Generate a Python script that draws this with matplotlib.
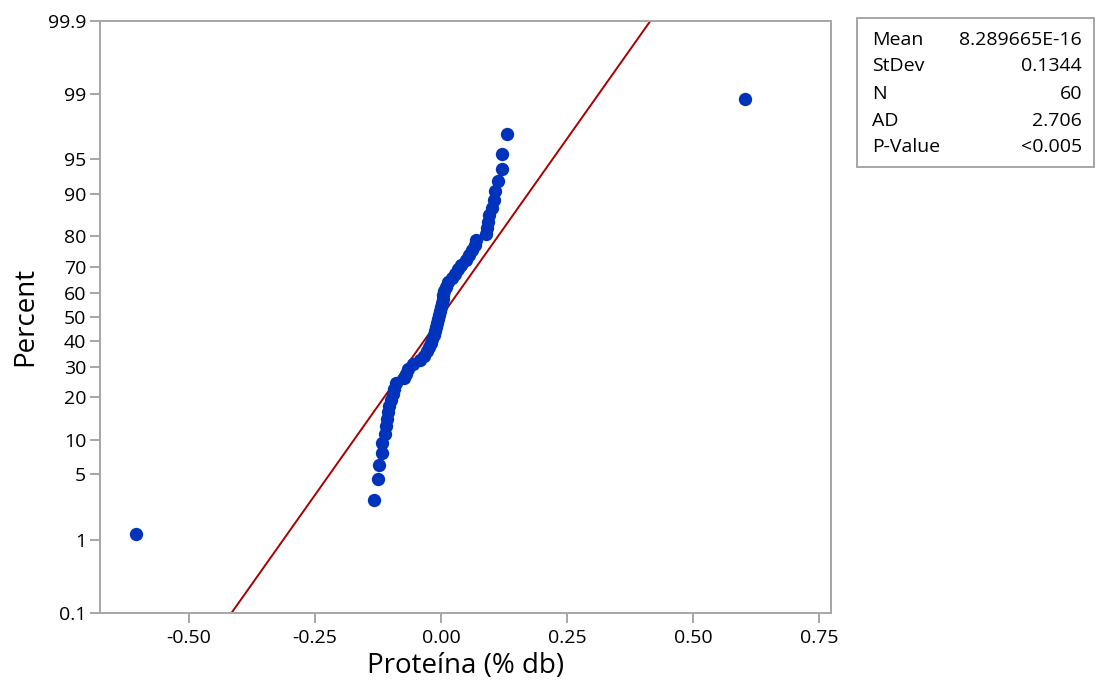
import matplotlib
matplotlib.use('Agg')
import matplotlib.pyplot as plt
from matplotlib.patches import Rectangle
from statistics import NormalDist

# residuos ordenados
residuals = [-0.605, -0.133, -0.125, -0.123, -0.117, -0.117, -0.111, -0.109, -0.107, -0.105,
             -0.103, -0.099, -0.095, -0.093, -0.089, -0.073, -0.069, -0.065, -0.056, -0.042,
             -0.034, -0.028, -0.024, -0.020, -0.018, -0.014, -0.012, -0.010, -0.008, -0.006,
             -0.004, -0.002, 0.000, 0.002, 0.004, 0.004, 0.006, 0.010, 0.014, 0.022,
             0.028, 0.034, 0.040, 0.050, 0.056, 0.062, 0.067, 0.069, 0.089, 0.091,
             0.093, 0.095, 0.101, 0.105, 0.107, 0.113, 0.121, 0.121, 0.131, 0.603]

pct_ticks = [0.1, 1, 5, 10, 20, 30, 40, 50, 60, 70, 80, 90, 95, 99, 99.9]
pct_labels = ['0.1', '1', '5', '10', '20', '30', '40', '50', '60', '70', '80', '90', '95', '99', '99.9']
x_ticks = [-0.5, -0.25, 0.0, 0.25, 0.5, 0.75]
x_labels = ['-0.50', '-0.25', '0.00', '0.25', '0.50', '0.75']

stat_names = ['Mean', 'StDev', 'N', 'AD', 'P-Value']
stat_values = ['8.289665E-16', '0.1344', '60', '2.706', '<0.005']
fit_mean = 8.289665e-16
fit_sd = 0.1344

plt.rcParams['font.family'] = ['Open Sans', 'DejaVu Sans']

nd = NormalDist()
n = len(residuals)
# posiciones de Minitab (rango mediano)
z_pts = [nd.inv_cdf((i - 0.3) / (n + 0.4)) for i in range(1, n + 1)]

W, H = 1096, 690
fig = plt.figure(figsize=(W / 100, H / 100), dpi=100)
ax = fig.add_axes([100 / W, (H - 612.7) / H, 730.7 / W, 591.7 / H])

z_lo = nd.inv_cdf(0.001)
z_hi = nd.inv_cdf(0.999)
ax.plot([fit_mean + fit_sd * z_lo, fit_mean + fit_sd * z_hi], [z_lo, z_hi],
        color='#a80000', lw=1.4, zorder=2)
ax.plot(residuals, z_pts, 'o', color='#0033bb', ms=9.6, mec='none', zorder=3)

ax.set_xlim((100 - 441) / 504, (830.7 - 441) / 504)
ax.set_ylim(z_lo, z_hi)
ax.set_xticks(x_ticks)
ax.set_xticklabels(x_labels)
ax.set_yticks([nd.inv_cdf(p / 100) for p in pct_ticks])
ax.set_yticklabels(pct_labels)

grey = '#a6a6a6'
for s in ax.spines.values():
    s.set_color(grey)
    s.set_linewidth(1.4)
ax.tick_params(axis='both', direction='out', length=7, width=1.4, color=grey,
               labelsize=14, labelcolor='black')
ax.tick_params(axis='x', pad=5)
ax.tick_params(axis='y', pad=3)

ax.set_xlabel('Proteína (% db)', fontsize=20, labelpad=3)
ax.set_ylabel('Percent', fontsize=20, labelpad=6)

# cuadro de estadisticas
fig.add_artist(Rectangle((857 / W, 1 - 167 / H), (1094 - 857) / W, (167 - 18) / H,
                         transform=fig.transFigure, fill=False, ec=grey, lw=1.4))
rows_y = [40, 66, 94, 121, 147]
for name, val, y in zip(stat_names, stat_values, rows_y):
    fig.text(872 / W, 1 - y / H, name, fontsize=14, va='center', ha='left')
    fig.text(1082 / W, 1 - y / H, val, fontsize=14, va='center', ha='right')

fig.savefig('out.png', dpi=100)
